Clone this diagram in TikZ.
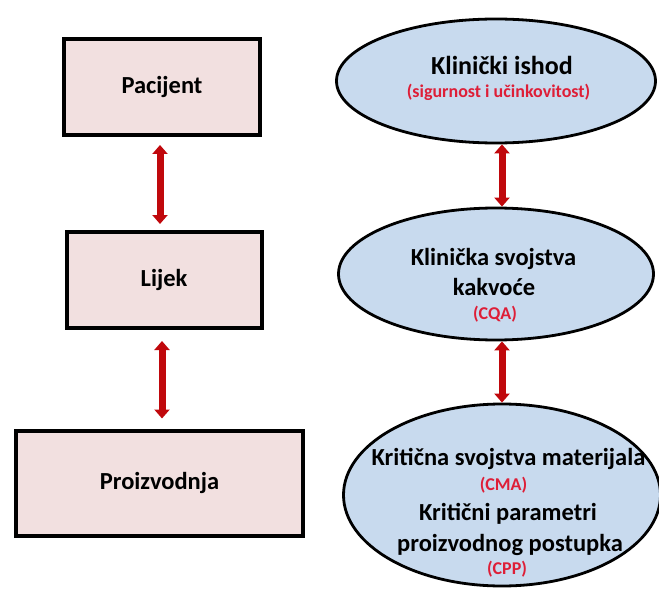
\documentclass[tikz,border=0pt]{standalone}
\usepackage{fontspec}
\setmainfont{Carlito}
\usepackage{xcolor}
\usepackage{tikz}
\usetikzlibrary{arrows.meta}
\usetikzlibrary{positioning,shapes.geometric}
\definecolor{boxpink}{RGB}{242,224,224}
\definecolor{ovalblue}{RGB}{200,218,238}
\definecolor{linkred}{RGB}{192,8,12}
\definecolor{notered}{RGB}{222,30,55}

\begin{document}
\begin{tikzpicture}[x=1pt,y=-1pt,
    stagebox/.style={draw=black,line width=4pt,fill=boxpink,inner sep=0pt,
      font=\fontsize{24.5}{28}\selectfont\bfseries},
    oval/.style={ellipse,draw=black,line width=2.8pt,fill=ovalblue,inner sep=0pt},
    ovaltext/.style={anchor=base,inner sep=0pt,font=\fontsize{24.5}{28}\selectfont\bfseries},
    abbr/.style={anchor=base,inner sep=0pt,text=notered,font=\fontsize{18}{21}\selectfont\bfseries},
    link/.style={{Triangle[width=15pt,length=9pt]}-{Triangle[width=15pt,length=9pt]},
      line width=7pt,linkred}]
  \useasboundingbox (0,0) rectangle (659,591);
  % left column
  \node[stagebox,minimum width=196pt,minimum height=96pt] (pac) at (162,87) {Pacijent};
  \node[stagebox,minimum width=195pt,minimum height=96pt] (lij) at (164,280) {Lijek};
  \node[stagebox,minimum width=287pt,minimum height=105pt] (pro) at (159.5,483) {Proizvodnja};
  \draw[link,shorten <=8pt,shorten >=6pt] (pac.south) ++(-2,0) coordinate (b1) -- (b1 |- lij.north);
  \draw[link,shorten <=11pt,shorten >=10pt] (lij.south) ++(-2,0) coordinate (b2) -- (b2 |- pro.north);
  % right column
  \node[oval,minimum width=319pt,minimum height=124pt] (ishod) at (496,81) {};
  \node[oval,minimum width=315pt,minimum height=132pt] (cqa) at (496,274) {};
  \node[oval,minimum width=317pt,minimum height=182pt] (cma) at (502,495) {};
  \draw[link] (ishod.south) ++(6,0) coordinate (a1) -- (a1 |- cqa.north);
  \draw[link] (cqa.south) ++(6,0) coordinate (a2) -- (a2 |- cma.north);
  \node[ovaltext,font=\fontsize{26}{30}\selectfont\bfseries] (t1) at (502,75) {Klinički ishod};
  \node[abbr] (n1) at (498.5,98) {(sigurnost i učinkovitost)};
  \node[ovaltext] (t2) at (493.5,265) {Klinička svojstva};
  \node[ovaltext] (t3) at (494,295) {kakvoće};
  \node[abbr] (n2) at (495,319) {(CQA)};
  \node[ovaltext] (t4) at (508.5,465) {Kritična svojstva materijala};
  \node[abbr] (n3) at (503.5,490) {(CMA)};
  \node[ovaltext] (t5) at (508,520) {Kritični parametri};
  \node[ovaltext] (t6) at (510,551) {proizvodnog postupka};
  \node[abbr] (n4) at (507,574) {(CPP)};
\end{tikzpicture}
\end{document}
